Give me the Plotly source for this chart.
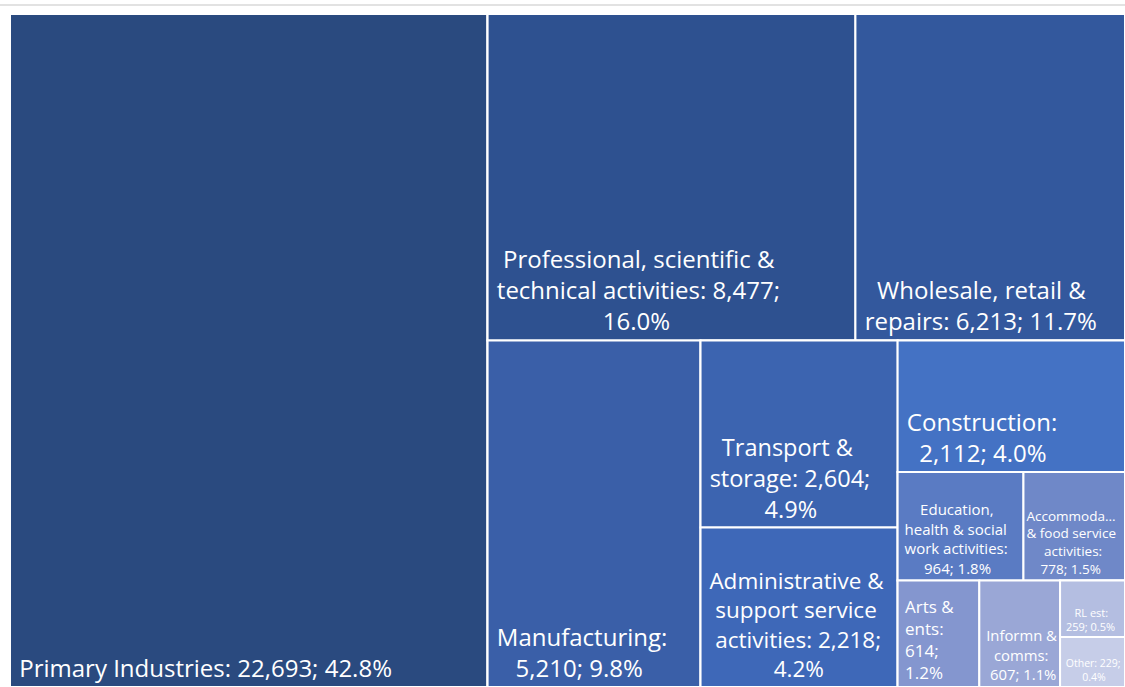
import plotly.graph_objects as go

# ---- data ----
sectors = [
    "Primary Industries", "Professional, scientific & technical activities",
    "Wholesale, retail & repairs", "Manufacturing", "Transport & storage",
    "Administrative & support service activities", "Construction",
    "Education, health & social work activities",
    "Accommodation & food service activities", "Arts & ents",
    "Informn & comms", "RL est", "Other",
]
counts = [22693, 8477, 6213, 5210, 2604, 2218, 2112, 964, 778, 614, 607, 259, 229]
label_lines = [
    ["Primary Industries: 22,693; 42.8%"],
    ["Professional, scientific &", "technical activities: 8,477;", "16.0%"],
    ["Wholesale, retail &", "repairs: 6,213; 11.7%"],
    ["Manufacturing:", "5,210; 9.8%"],
    ["Transport &", "storage: 2,604;", "4.9%"],
    ["Administrative &", "support service", "activities: 2,218;", "4.2%"],
    ["Construction:", "2,112; 4.0%"],
    ["Education,", "health & social", "work activities:", "964; 1.8%"],
    ["Accommoda...", "& food service", "activities:", "778; 1.5%"],
    ["Arts &", "ents:", "614;", "1.2%"],
    ["Informn &", "comms:", "607; 1.1%"],
    ["RL est:", "259; 0.5%"],
    ["Other: 229;", "0.4%"],
]
colors = ["#2A4A7F", "#2E5190", "#33589D", "#3A5FA8", "#3C64B0", "#3E68B8",
          "#4472C4", "#5A7BC3", "#6F88C8", "#8496CF", "#9AA7D6", "#B4BEE1", "#C6CDE8"]
font_sizes = [24, 24, 24, 24, 23.5, 22.5, 24, 15, 13.5, 17, 15, 11, 10.5]
center_lines = [True] * 9 + [False] + [True] * 3
lead_space = [1] * 8 + [0] + [1] * 4

# approximate Open Sans advance widths (em) used to centre wrapped lines
_W = {" ": .26, "\u00a0": .26, ",": .245, ".": .266, ":": .266, ";": .266,
      "%": .818, "&": .725, "A": .633, "C": .631, "E": .556, "I": .303, "M": .885,
      "O": .781, "P": .613, "R": .626, "T": .54, "W": .913,
      "a": .556, "b": .613, "c": .476, "d": .613, "e": .561, "f": .339, "g": .548,
      "h": .614, "i": .253, "j": .253, "k": .525, "l": .253, "m": .93, "n": .614,
      "o": .604, "p": .613, "q": .613, "r": .408, "s": .477, "t": .353, "u": .614,
      "v": .501, "w": .778, "x": .524, "y": .502, "z": .477}


def _w(s):
    return sum(_W.get(c, .572) for c in s)


def build_text(lines, centre, lead):
    mw = max(_w(l) for l in lines)
    out = []
    for l in lines:
        n = int(round((mw - _w(l)) / 2 / .26)) if centre else 0
        out.append("\u00a0" * (n + lead) + l)
    return "<br>".join(out)


label_texts = [build_text(l, c, s) for l, c, s in zip(label_lines, center_lines, lead_space)]

# layout grouping (mimics the spreadsheet treemap's row/column arrangement)
leaf_parent = ["", "g_top", "g_top", "g_rest2", "g_col2", "g_col2", "g_col3",
               "g_rowA", "g_rowA", "g_rowB", "g_rowB", "g_colC", "g_colC"]
group_parent = {"g_rest1": "", "g_top": "g_rest1", "g_rest2": "g_rest1",
                "g_col2": "g_rest2", "g_col3": "g_rest2", "g_rowA": "g_col3",
                "g_rowB": "g_col3", "g_colC": "g_rowB"}
order = [0, "g_rest1", "g_top", 1, 2, "g_rest2", 3, "g_col2", 4, 5,
         "g_col3", 6, "g_rowA", 7, 8, "g_rowB", 9, 10, "g_colC", 11, 12]

ids, parents, vals, texts, cols, sizes = [], [], [], [], [], []
for k in order:
    if isinstance(k, int):
        ids.append(sectors[k]); parents.append(leaf_parent[k])
        vals.append(counts[k]); texts.append(label_texts[k]); cols.append(colors[k])
        sizes.append(font_sizes[k])
    else:
        ids.append(k); parents.append(group_parent[k]); vals.append(0); texts.append("")
        cols.append("#FFFFFF"); sizes.append(10)

fig = go.Figure(go.Treemap(
    ids=ids, labels=ids, parents=parents, values=vals,
    branchvalues="remainder", sort=False,
    text=texts, textinfo="text",
    textposition="bottom left",
    textfont=dict(family="Open Sans, sans-serif", color="white", size=sizes),
    marker=dict(colors=cols, line=dict(color="white", width=2),
                pad=dict(t=0, l=0, r=0, b=0)),
    tiling=dict(packing="slice-dice", pad=0),
    pathbar=dict(visible=False),
    hoverinfo="skip",
))
fig.update_layout(
    width=1125, height=687,
    margin=dict(l=10, r=0, t=14, b=0),
    paper_bgcolor="white",
    shapes=[dict(type="line", xref="paper", yref="paper", x0=-0.01, x1=1.0,
                 y0=1 + 9 / 673, y1=1 + 9 / 673,
                 line=dict(color="#D9D9D9", width=1.5))],
)
fig.write_html("out.html", config={"displayModeBar": False},
               post_script="document.body.style.margin='0px';document.body.style.overflow='hidden';")
